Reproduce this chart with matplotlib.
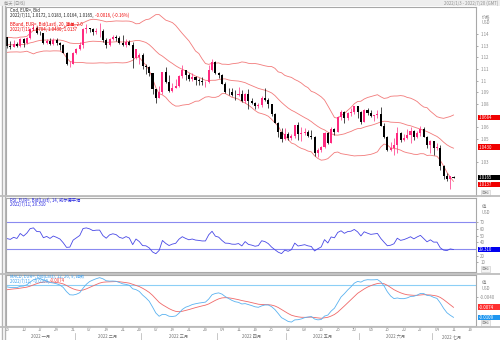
import numpy as np
import pandas as pd
import matplotlib
matplotlib.use("Agg")
import matplotlib.pyplot as plt
from matplotlib.lines import Line2D
import matplotlib.transforms as mtransforms

plt.rcParams["font.family"] = ["Noto Sans CJK SC", "DejaVu Sans"]

# EUR= daily bid candles, 2022/1/3 .. 2022/7/11 (weekdays)
opens = [
    1.1370, 1.1299, 1.1287, 1.1312, 1.1296, 1.1360, 1.1326, 1.1367, 1.1441, 1.1455,
    1.1411, 1.1408, 1.1325, 1.1343, 1.1313, 1.1345, 1.1326, 1.1302, 1.1241, 1.1144,
    1.1147, 1.1235, 1.1270, 1.1305, 1.1440, 1.1454, 1.1440, 1.1415, 1.1424, 1.1425,
    1.1349, 1.1306, 1.1357, 1.1375, 1.1363, 1.1322, 1.1307, 1.1330, 1.1309, 1.1193,
    1.1200, 1.1220, 1.1125, 1.1120, 1.1065, 1.0930, 1.0855, 1.0901, 1.1075, 1.0985,
    1.0912, 1.0940, 1.0955, 1.1038, 1.1093, 1.1050, 1.1015, 1.1030, 1.1005, 1.0997,
    1.0985, 1.0985, 1.1089, 1.1160, 1.1067, 1.1046, 1.0972, 1.0904, 1.0900, 1.0878,
    1.0875, 1.0885, 1.0830, 1.0890, 1.0826, 1.0808, 1.0781, 1.0789, 1.0853, 1.0836,
    1.0796, 1.0715, 1.0641, 1.0557, 1.0500, 1.0545, 1.0505, 1.0526, 1.0620, 1.0540,
    1.0550, 1.0560, 1.0530, 1.0515, 1.0380, 1.0410, 1.0435, 1.0550, 1.0465, 1.0585,
    1.0563, 1.0690, 1.0735, 1.0680, 1.0725, 1.0735, 1.0780, 1.0735, 1.0650, 1.0750,
    1.0720, 1.0695, 1.0705, 1.0715, 1.0615, 1.0520, 1.0410, 1.0420, 1.0445, 1.0550,
    1.0495, 1.0510, 1.0535, 1.0565, 1.0520, 1.0555, 1.0585, 1.0520, 1.0445, 1.0480,
    1.0425, 1.0425, 1.0265, 1.0180, 1.0160, 1.0172,
]
highs = [
    1.1376, 1.1336, 1.1346, 1.1329, 1.1364, 1.1362, 1.1375, 1.1449, 1.1482, 1.1465,
    1.1427, 1.1412, 1.1357, 1.1369, 1.1363, 1.1369, 1.1330, 1.1310, 1.1243, 1.1167,
    1.1243, 1.1282, 1.1332, 1.1451, 1.1483, 1.1454, 1.1447, 1.1448, 1.1495, 1.1441,
    1.1369, 1.1368, 1.1395, 1.1395, 1.1386, 1.1395, 1.1360, 1.1347, 1.1330, 1.1274,
    1.1240, 1.1233, 1.1143, 1.1124, 1.1067, 1.0932, 1.0950, 1.1077, 1.1121, 1.1046,
    1.0982, 1.1010, 1.1045, 1.1137, 1.1095, 1.1065, 1.1069, 1.1040, 1.1024, 1.1035,
    1.0999, 1.1137, 1.1185, 1.1168, 1.1076, 1.1054, 1.0991, 1.0936, 1.0934, 1.0922,
    1.0945, 1.0920, 1.0895, 1.0925, 1.0848, 1.0814, 1.0809, 1.0867, 1.0936, 1.0851,
    1.0799, 1.0724, 1.0650, 1.0593, 1.0593, 1.0562, 1.0542, 1.0622, 1.0642, 1.0600,
    1.0594, 1.0574, 1.0578, 1.0526, 1.0425, 1.0443, 1.0564, 1.0564, 1.0606, 1.0593,
    1.0697, 1.0748, 1.0737, 1.0734, 1.0765, 1.0787, 1.0785, 1.0737, 1.0753, 1.0765,
    1.0752, 1.0710, 1.0748, 1.0774, 1.0634, 1.0522, 1.0475, 1.0505, 1.0601, 1.0558,
    1.0545, 1.0582, 1.0605, 1.0580, 1.0570, 1.0615, 1.0606, 1.0530, 1.0488, 1.0485,
    1.0462, 1.0445, 1.0275, 1.0210, 1.0186, 1.0183,
]
lows = [
    1.1280, 1.1272, 1.1285, 1.1285, 1.1290, 1.1285, 1.1313, 1.1355, 1.1436, 1.1399,
    1.1395, 1.1313, 1.1312, 1.1308, 1.1302, 1.1303, 1.1265, 1.1236, 1.1136, 1.1121,
    1.1140, 1.1226, 1.1263, 1.1280, 1.1412, 1.1419, 1.1393, 1.1403, 1.1375, 1.1334,
    1.1280, 1.1300, 1.1348, 1.1340, 1.1316, 1.1300, 1.1289, 1.1305, 1.1106, 1.1186,
    1.1141, 1.1103, 1.1059, 1.1042, 1.0885, 1.0806, 1.0850, 1.0890, 1.0980, 1.0906,
    1.0904, 1.0935, 1.0948, 1.1025, 1.1004, 1.1001, 1.0999, 1.0961, 1.0964, 1.0964,
    1.0944, 1.0980, 1.1086, 1.1055, 1.1026, 1.0968, 1.0898, 1.0873, 1.0872, 1.0835,
    1.0870, 1.0821, 1.0812, 1.0758, 1.0800, 1.0761, 1.0770, 1.0778, 1.0823, 1.0769,
    1.0697, 1.0635, 1.0515, 1.0471, 1.0489, 1.0493, 1.0492, 1.0505, 1.0493, 1.0483,
    1.0532, 1.0515, 1.0503, 1.0354, 1.0350, 1.0389, 1.0420, 1.0460, 1.0463, 1.0532,
    1.0560, 1.0661, 1.0641, 1.0661, 1.0700, 1.0717, 1.0681, 1.0627, 1.0645, 1.0705,
    1.0692, 1.0653, 1.0680, 1.0611, 1.0506, 1.0398, 1.0397, 1.0360, 1.0380, 1.0475,
    1.0480, 1.0500, 1.0470, 1.0488, 1.0510, 1.0530, 1.0515, 1.0420, 1.0380, 1.0365,
    1.0410, 1.0235, 1.0161, 1.0143, 1.0072, 1.0164,
]
closes = [
    1.1299, 1.1287, 1.1312, 1.1296, 1.1360, 1.1326, 1.1367, 1.1441, 1.1455, 1.1411,
    1.1408, 1.1325, 1.1343, 1.1313, 1.1345, 1.1326, 1.1302, 1.1241, 1.1144, 1.1147,
    1.1235, 1.1270, 1.1305, 1.1440, 1.1454, 1.1440, 1.1415, 1.1424, 1.1425, 1.1349,
    1.1306, 1.1357, 1.1375, 1.1363, 1.1322, 1.1307, 1.1330, 1.1309, 1.1193, 1.1270,
    1.1220, 1.1125, 1.1120, 1.1065, 1.0930, 1.0855, 1.0901, 1.1075, 1.0985, 1.0912,
    1.0940, 1.0955, 1.1038, 1.1093, 1.1050, 1.1015, 1.1030, 1.1005, 1.0997, 1.0985,
    1.0985, 1.1089, 1.1160, 1.1067, 1.1046, 1.0972, 1.0904, 1.0900, 1.0878, 1.0875,
    1.0885, 1.0830, 1.0890, 1.0826, 1.0808, 1.0781, 1.0789, 1.0853, 1.0836, 1.0796,
    1.0715, 1.0641, 1.0557, 1.0500, 1.0545, 1.0505, 1.0526, 1.0620, 1.0540, 1.0550,
    1.0560, 1.0530, 1.0515, 1.0380, 1.0410, 1.0435, 1.0550, 1.0465, 1.0585, 1.0563,
    1.0690, 1.0735, 1.0680, 1.0725, 1.0735, 1.0780, 1.0735, 1.0650, 1.0750, 1.0720,
    1.0695, 1.0705, 1.0715, 1.0615, 1.0520, 1.0410, 1.0420, 1.0445, 1.0550, 1.0495,
    1.0510, 1.0535, 1.0565, 1.0520, 1.0555, 1.0585, 1.0520, 1.0445, 1.0480, 1.0425,
    1.0425, 1.0265, 1.0180, 1.0160, 1.0185, 1.0165,
]
# closes before the window (Nov-Dec 2021), only used to warm up the indicators
warmup_closes = [
    1.1606, 1.1580, 1.1612, 1.1555, 1.1568, 1.1588, 1.1590, 1.1478, 1.1445, 1.1445,
    1.1368, 1.1320, 1.1318, 1.1370, 1.1290, 1.1235, 1.1250, 1.1200, 1.1210, 1.1318,
    1.1290, 1.1338, 1.1320, 1.1305, 1.1315, 1.1285, 1.1265, 1.1345, 1.1290, 1.1315,
    1.1285, 1.1260, 1.1290, 1.1330, 1.1238, 1.1280, 1.1280, 1.1330, 1.1325, 1.1320,
    1.1327, 1.1310, 1.1350, 1.1325, 1.1370,
]

week_labels = ["03", "10", "17", "24", "31", "07", "14", "21", "28", "07", "14", "21",
               "28", "04", "11", "18", "25", "02", "09", "16", "23", "30", "06", "13",
               "20", "27", "04", "11", "18"]
month_labels = ["2022 一月", "2022 二月", "2022 三月", "2022 四月", "2022 五月",
                "2022 六月", "2022 七月"]
month_starts = [0, 21, 41, 64, 85, 107, 129, 141]

# tick labels that stay visible (the others sit under the value tags)
price_ticks = [1.03, 1.05, 1.06, 1.08, 1.09, 1.10, 1.11, 1.12, 1.13, 1.14]
rsi_ticks = [10, 20, 40, 50, 60, 70]
macd_ticks = [-0.0040]

# last-value tags on the right axis: (value, text, colour, pixel nudge)
main_tags = [(1.0684, "1.0684", "#f00000", 0), (1.0430, "1.0430", "#f00000", 0),
             (1.0165, "1.0165", "#000000", -0.5), (1.0137, "1.0137", "#f00000", 3.2)]
rsi_tags = [(29.31, "29.310", "#0000f0", 0)]
macd_tags = [(-0.0074, "-0.0074", "#ff3030", 0), (-0.0109, "-0.0109", "#1e96f0", 0)]

UP = "#ff2a80"
DOWN = "#000000"
GRID = "#a8a8a8"
TXT = "#8a8a8a"
FS = 3.1

o = np.array(opens)
h = np.array(highs)
l = np.array(lows)
c = np.array(closes)
n = len(c)
x = np.arange(n)

# indicators
allc = pd.Series(warmup_closes + closes)
mid = allc.rolling(20).mean()
sd = allc.rolling(20).std(ddof=0)
bb_up = (mid + 2 * sd).values[-n:]
bb_lo = (mid - 2 * sd).values[-n:]
bb_mid = mid.values[-n:]

delta = allc.diff()
gain = delta.clip(lower=0).ewm(alpha=1 / 14, adjust=False).mean()
loss = (-delta.clip(upper=0)).ewm(alpha=1 / 14, adjust=False).mean()
rsi = (100 - 100 / (1 + gain / loss)).values[-n:]

macd = allc.ewm(span=12, adjust=False).mean() - allc.ewm(span=26, adjust=False).mean()
signal = macd.ewm(span=9, adjust=False).mean()
macd = macd.values[-n:]
signal = signal.values[-n:]

fig = plt.figure(figsize=(5, 3.4), dpi=100)
fig.patch.set_facecolor("white")

L, W = 6 / 500, 470 / 500
ax = fig.add_axes([L, 1 - 196 / 340, W, 189 / 340])
ax_rsi = fig.add_axes([L, 1 - 272 / 340, W, 74 / 340])
ax_macd = fig.add_axes([L, 1 - 326 / 340, W, 51 / 340])

for a in (ax, ax_rsi, ax_macd):
    a.set_xlim(-0.3, 141.8)
    for s in a.spines.values():
        s.set_color(GRID)
        s.set_linewidth(0.8)
    a.yaxis.tick_right()
    a.tick_params(axis="y", direction="out", length=1.5, width=0.5, color=TXT,
                  labelsize=FS, labelcolor=TXT, pad=1.5)
    a.tick_params(axis="x", bottom=False, labelbottom=False)

# candles
colors = np.where(c >= o, UP, DOWN)
ax.vlines(x, l, h, colors=colors, linewidth=0.5, zorder=2)
body = np.maximum(np.abs(c - o), 0.00025)
ax.bar(x, body, bottom=np.minimum(o, c), width=0.62, color=colors,
       linewidth=0, zorder=3)
for band in (bb_up, bb_mid, bb_lo):
    ax.plot(x, band, color="#f27a7a", linewidth=0.6, zorder=1)
ax.set_ylim(1.0012, 1.1631)
ax.set_yticks(price_ticks)
ax.set_yticklabels([f"{v:.2f}".rstrip("0") for v in price_ticks])

# RSI
ax_rsi.axhline(70, color="#8a8af0", linewidth=0.8)
ax_rsi.axhline(30, color="#8a8af0", linewidth=0.8)
ax_rsi.plot(x, rsi, color="#4848e6", linewidth=0.6)
ax_rsi.set_ylim(-4.1, 105.6)
ax_rsi.set_yticks(rsi_ticks)

# MACD
ax_macd.axhline(0, color="#8ccff6", linewidth=0.8)
ax_macd.plot(x, signal, color="#f06868", linewidth=0.6)
ax_macd.plot(x, macd, color="#5ab2f0", linewidth=0.6)
ax_macd.set_ylim(-0.0137, 0.0033)
ax_macd.set_yticks(macd_ticks)
ax_macd.set_yticklabels([f"{v:.4f}" for v in macd_ticks])

# right-axis value tags, unit labels and scale buttons
for a, tags in ((ax, main_tags), (ax_rsi, rsi_tags), (ax_macd, macd_tags)):
    tr = mtransforms.blended_transform_factory(a.transAxes, a.transData)
    y0, y1 = a.get_ylim()
    px = (y1 - y0) / a.bbox.height  # data units per pixel
    for val, txt, col, nudge in tags:
        yc = val - nudge * px
        a.add_patch(plt.Rectangle((1.004, yc - 2.8 * px), 0.048, 5.6 * px, transform=tr,
                                  fc=col, ec="none", clip_on=False, zorder=9))
        a.text(1.006, yc, txt, transform=tr, fontsize=FS, color="white",
               va="center", ha="left", clip_on=False, zorder=10)
    top_px = 10 if a is ax else 8
    a.text(1.012, 1 - top_px / a.bbox.height, "价格" if a is ax else "值",
           transform=a.transAxes, fontsize=FS, color=TXT, va="center", ha="left")
    a.text(1.012, 1 - (top_px + 6) / a.bbox.height, "USD",
           transform=a.transAxes, fontsize=FS, color=TXT, va="center", ha="left")
    a.text(1.012, 3 / a.bbox.height, "自动", transform=a.transAxes, fontsize=FS - 0.3,
           color=TXT, va="center", ha="left",
           bbox=dict(boxstyle="square,pad=0.2", fc="#f4f4f4", ec="#c8c8c8", lw=0.4))


# panel headers, drawn piece by piece so colours can change inside a line
def header(a, y_px, parts):
    r = fig.canvas.get_renderer()
    xx = 4.5 / a.bbox.width
    for txt, col in parts:
        tx = a.text(xx, 1 - y_px / a.bbox.height, txt, transform=a.transAxes,
                    fontsize=FS, color=col, va="center", ha="left", zorder=11)
        xx += tx.get_window_extent(renderer=r).width / a.bbox.width


header(ax, 3.7, [("Cnd, EUR=, Bid", "#202020")])
header(ax, 8.7, [("2022/7/11, 1.0172, 1.0183, 1.0164, 1.0165, ", "#202020"),
                 ("-0.0016, (-0.16%)", "#f00000")])
header(ax, 17.0, [("BBand, EUR=, Bid(Last), 20, 简单, 2.0", "#f00000")])
header(ax, 22.0, [("2022/7/11, 1.0704, 1.0430, 1.0137", "#f00000")])
header(ax_rsi, 2.0, [("RSI, EUR=, Bid(Last), 14, 威尔德平滑", "#2828e0")])
header(ax_rsi, 6.5, [("2022/7/11, 29.310", "#2828e0")])
header(ax_macd, 1.5, [("MACD, EUR=, Bid(Last), 12, 26, 9, 指数", "#3aa0f0")])
header(ax_macd, 6.0, [("2022/7/11, ", "#3aa0f0"), ("-0.0109, ", "#3aa0f0"),
                      ("-0.0074", "#f04040")])

# date axis
trx = mtransforms.blended_transform_factory(ax_macd.transData, ax_macd.transAxes)
hpx = ax_macd.bbox.height
for i, lab in enumerate(week_labels):
    ax_macd.text(i * 5, -3.5 / hpx, lab, transform=trx, fontsize=FS,
                 color=TXT, ha="center", va="center", clip_on=False)
for k, lab in enumerate(month_labels):
    s, e = month_starts[k], month_starts[k + 1]
    ax_macd.text((s + e - 1) / 2, -10.5 / hpx, lab, transform=trx, fontsize=FS,
                 color="#707070", ha="center", va="center", clip_on=False)
    ax_macd.plot([s - 0.5, s - 0.5], [-7 / hpx, -13.5 / hpx], transform=trx,
                 color="#b0b0b0", linewidth=0.5, clip_on=False)

# frame, top strip and separators
fig.patches.append(plt.Rectangle((0, 1 - 6 / 340), 1, 6 / 340, transform=fig.transFigure,
                                 fc="#eeeeee", ec="none", zorder=0))
fig.text(4 / 500, 1 - 3 / 340, "每天 (日线)", fontsize=FS, color="#909090",
         va="center", ha="left")
fig.text(498 / 500, 1 - 3 / 340, "2022/1/3 - 2022/7/20 (GMT)", fontsize=FS,
         color="#909090", va="center", ha="right")
for xf in (2 / 500, 4.5 / 500):
    fig.add_artist(Line2D([xf, xf], [0, 1 - 6 / 340], transform=fig.transFigure,
                          color="#b4b4b4", linewidth=1.0))
for yy in (196.5, 273.5, 326.5):
    fig.add_artist(Line2D([0, 1], [1 - yy / 340] * 2, transform=fig.transFigure,
                          color="#bdbdbd", linewidth=1.3))

fig.savefig("out.png", dpi=100)
